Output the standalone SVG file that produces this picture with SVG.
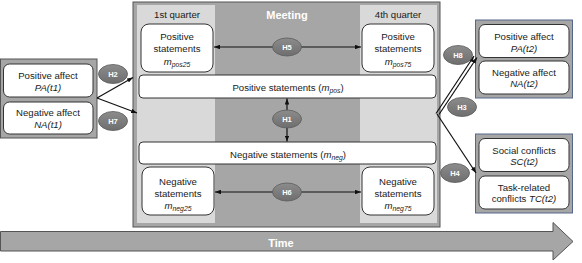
<svg xmlns="http://www.w3.org/2000/svg" width="582" height="263" viewBox="0 0 582 263">
<defs>
<marker id="ah" viewBox="0 0 8 6" refX="8" refY="3" markerWidth="6" markerHeight="4.5" markerUnits="userSpaceOnUse" orient="auto-start-reverse">
<path d="M0,0 L8,3 L0,6 z" fill="#111"/>
</marker>
<linearGradient id="eg" x1="0" y1="0" x2="0" y2="1">
<stop offset="0" stop-color="#8c8c8c"/>
<stop offset="1" stop-color="#6e6e6e"/>
</linearGradient>
</defs>
<style>
text{font-family:"Liberation Sans",Arial,sans-serif;font-size:9.6px;fill:#1a1a1a;text-anchor:middle}
.box{fill:#fff;stroke:#333;stroke-width:1}
.grp{fill:#a6a6a6;stroke:#555;stroke-width:1}
.grpb{fill:#a6a6a6;stroke:#56678c;stroke-width:1}
.light{fill:#d9d9d9}
.hyp{fill:url(#eg);stroke:#5a5a5a;stroke-width:0.8}
.ht{fill:#fff;font-weight:bold;font-size:7.5px}
.it{font-style:italic}
.sub{font-size:6.8px;font-style:italic}
.con{stroke:#111;stroke-width:1.2;fill:none}
.wb{fill:#fff;font-weight:bold;font-size:11px}
</style>

<g id="time">
<polygon points="0.5,231.5 553,231.5 553,222.5 573,241.5 553,260 553,251 0.5,251" fill="#a6a6a6" stroke="#555" stroke-width="1"/>
<text x="281" y="246.5" class="wb">Time</text>
</g>

<g id="meeting">
<rect x="133" y="2" width="307" height="225" fill="#a6a6a6" stroke="#555" stroke-width="1"/>
<rect x="137" y="5" width="78" height="218" class="light"/>
<rect x="360" y="5" width="77" height="218" class="light"/>
<text x="177" y="18">1st quarter</text>
<text x="398" y="18">4th quarter</text>
<text x="287" y="19" class="wb">Meeting</text>
</g>

<g id="pos25">
<rect x="141" y="24" width="72" height="48" rx="8" class="box"/>
<text x="177" y="39.5">Positive</text>
<text x="177" y="52">statements</text>
<text x="177" y="64.5"><tspan class="it">m</tspan><tspan class="sub" dy="2">pos25</tspan></text>
</g>
<g id="pos75">
<rect x="362" y="24" width="72" height="48" rx="8" class="box"/>
<text x="398" y="39.5">Positive</text>
<text x="398" y="52">statements</text>
<text x="398" y="64.5"><tspan class="it">m</tspan><tspan class="sub" dy="2">pos75</tspan></text>
</g>
<g id="mpos">
<rect x="139" y="75" width="297" height="23" rx="4" class="box"/>
<text x="288" y="91">Positive statements (<tspan class="it">m</tspan><tspan class="sub" dy="2">pos</tspan><tspan dy="-2">)</tspan></text>
</g>
<g id="mneg">
<rect x="139" y="142" width="297" height="22" rx="4" class="box"/>
<text x="288" y="157.5">Negative statements (<tspan class="it">m</tspan><tspan class="sub" dy="2">neg</tspan><tspan dy="-2">)</tspan></text>
</g>
<g id="neg25">
<rect x="142" y="167" width="72" height="48" rx="8" class="box"/>
<text x="178" y="184.5">Negative</text>
<text x="178" y="196.5">statements</text>
<text x="178" y="208.5"><tspan class="it">m</tspan><tspan class="sub" dy="2">neg25</tspan></text>
</g>
<g id="neg75">
<rect x="362" y="167" width="72" height="48" rx="8" class="box"/>
<text x="398" y="184.5">Negative</text>
<text x="398" y="196.5">statements</text>
<text x="398" y="208.5"><tspan class="it">m</tspan><tspan class="sub" dy="2">neg75</tspan></text>
</g>

<g id="affect-t1">
<rect x="0.5" y="59" width="96.5" height="79" class="grp"/>
<rect x="3.5" y="64" width="89.5" height="33" rx="6" class="box"/>
<rect x="3.5" y="102" width="89.5" height="32" rx="6" class="box"/>
<text x="48" y="78.5">Positive affect</text>
<text x="48" y="90.5" class="it">PA(t1)</text>
<text x="48" y="115.5">Negative affect</text>
<text x="48" y="127.5" class="it">NA(t1)</text>
</g>

<g id="affect-t2">
<rect x="475.5" y="20" width="97" height="78" class="grpb"/>
<rect x="479" y="24.5" width="90" height="33" rx="6" class="box"/>
<rect x="479" y="61" width="90" height="33" rx="6" class="box"/>
<text x="524" y="39.5">Positive affect</text>
<text x="524" y="51.5" class="it">PA(t2)</text>
<text x="524" y="75.5">Negative affect</text>
<text x="524" y="86.5" class="it">NA(t2)</text>
</g>

<g id="conflicts-t2">
<rect x="475.5" y="134" width="97" height="79" class="grpb"/>
<rect x="479" y="138.5" width="90" height="33" rx="6" class="box"/>
<rect x="479" y="176" width="90" height="33" rx="6" class="box"/>
<text x="524" y="153.5">Social conflicts</text>
<text x="524" y="165" class="it">SC(t2)</text>
<text x="524" y="190.5">Task-related</text>
<text x="524" y="202">conflicts <tspan class="it">TC(t2)</tspan></text>
</g>

<g id="connectors">
<line x1="97" y1="98" x2="133" y2="77.5" class="con" marker-end="url(#ah)"/>
<line x1="97" y1="98" x2="137" y2="113" class="con" marker-end="url(#ah)"/>
<line x1="214" y1="47" x2="361" y2="47" class="con" marker-start="url(#ah)" marker-end="url(#ah)"/>
<line x1="215" y1="192" x2="361" y2="192" class="con" marker-start="url(#ah)" marker-end="url(#ah)"/>
<line x1="287" y1="98.5" x2="287" y2="141.5" class="con" marker-start="url(#ah)" marker-end="url(#ah)"/>
<line x1="436" y1="113.5" x2="474" y2="56" class="con" marker-end="url(#ah)"/>
<line x1="439" y1="114.5" x2="477" y2="57.5" class="con" marker-end="url(#ah)"/>
<line x1="437" y1="114" x2="476" y2="173" class="con" marker-end="url(#ah)"/>
</g>

<g id="H2"><ellipse cx="113" cy="74" rx="14.5" ry="9.5" class="hyp"/><text x="113" y="76.7" class="ht">H2</text></g>
<g id="H7"><ellipse cx="113" cy="121" rx="14.5" ry="9.5" class="hyp"/><text x="113" y="123.7" class="ht">H7</text></g>
<g id="H5"><ellipse cx="287" cy="47" rx="14.5" ry="9" class="hyp"/><text x="287" y="49.7" class="ht">H5</text></g>
<g id="H1"><ellipse cx="287" cy="119" rx="14.5" ry="9" class="hyp"/><text x="287" y="121.7" class="ht">H1</text></g>
<g id="H6"><ellipse cx="287" cy="192" rx="14.5" ry="9" class="hyp"/><text x="287" y="194.7" class="ht">H6</text></g>
<g id="H8"><ellipse cx="458" cy="55" rx="14.5" ry="9.5" class="hyp"/><text x="458" y="57.7" class="ht">H8</text></g>
<g id="H3"><ellipse cx="462" cy="107" rx="14.5" ry="9.5" class="hyp"/><text x="462" y="109.7" class="ht">H3</text></g>
<g id="H4"><ellipse cx="455" cy="173" rx="14.5" ry="9.5" class="hyp"/><text x="455" y="175.7" class="ht">H4</text></g>
</svg>
